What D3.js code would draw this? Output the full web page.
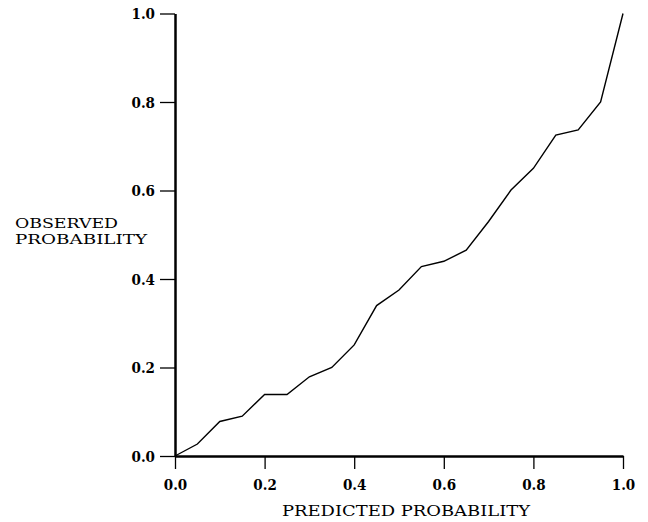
<!DOCTYPE html>
<html><head><meta charset="utf-8">
<script src="https://cdn.jsdelivr.net/npm/d3@7"></script>
<style>body{margin:0;background:#fff}svg{display:block}</style>
</head><body>
<script>
const predicted = [0,0.05,0.10,0.15,0.20,0.25,0.30,0.35,0.40,0.45,0.50,0.55,0.60,0.65,0.70,0.75,0.80,0.85,0.90,0.95,1.00];
const observed  = [0,0.027,0.078,0.090,0.139,0.139,0.179,0.200,0.251,0.340,0.375,0.428,0.440,0.465,0.530,0.601,0.650,0.725,0.737,0.800,1.000];
const tickValues = [0,0.2,0.4,0.6,0.8,1.0];
const xTitle = "PREDICTED PROBABILITY";
const yTitle = ["OBSERVED","PROBABILITY"];

const W=648,H=522;
const svg=d3.select("body").append("svg").attr("width",W).attr("height",H);
const x=d3.scaleLinear().domain([0,1]).range([175,623]);
const y=d3.scaleLinear().domain([0,1]).range([456,13.5]);
const font="'DejaVu Serif Condensed', 'DejaVu Serif', serif";

const xa=svg.append("g").attr("transform",`translate(0,${y(0)})`)
  .call(d3.axisBottom(x).tickValues(tickValues).tickFormat(d3.format(".1f")).tickSize(13).tickPadding(10).tickSizeOuter(0));
const ya=svg.append("g").attr("transform",`translate(${x(0)},0)`)
  .call(d3.axisLeft(y).tickValues(tickValues).tickFormat(d3.format(".1f")).tickSize(15).tickPadding(5).tickSizeOuter(0));
[xa,ya].forEach(g=>{
  g.select(".domain").attr("stroke","#000").attr("stroke-width",2.5);
  g.selectAll(".tick line").attr("stroke","#000").attr("stroke-width",1.3);
  g.selectAll(".tick text").attr("fill","#000").style("font-family",font).style("font-weight","bold").style("font-size","15px");
});
ya.selectAll(".tick text").attr("dy","0.35em");

svg.append("path").datum(predicted.map((p,i)=>[p,observed[i]]))
  .attr("fill","none").attr("stroke","#000").attr("stroke-width",1.4)
  .attr("d",d3.line().x(d=>x(d[0])).y(d=>y(d[1])));

svg.append("text").attr("x",406).attr("y",516).attr("text-anchor","middle")
  .style("font-family",font).style("font-size","15px").attr("fill","#000")
  .attr("textLength",248).attr("lengthAdjust","spacingAndGlyphs").text(xTitle);
svg.append("text").attr("x",15).attr("y",228)
  .style("font-family",font).style("font-size","13.5px").attr("fill","#000")
  .attr("textLength",103).attr("lengthAdjust","spacingAndGlyphs").text(yTitle[0]);
svg.append("text").attr("x",15).attr("y",244)
  .style("font-family",font).style("font-size","13.5px").attr("fill","#000")
  .attr("textLength",132).attr("lengthAdjust","spacingAndGlyphs").text(yTitle[1]);
</script>
</body></html>
